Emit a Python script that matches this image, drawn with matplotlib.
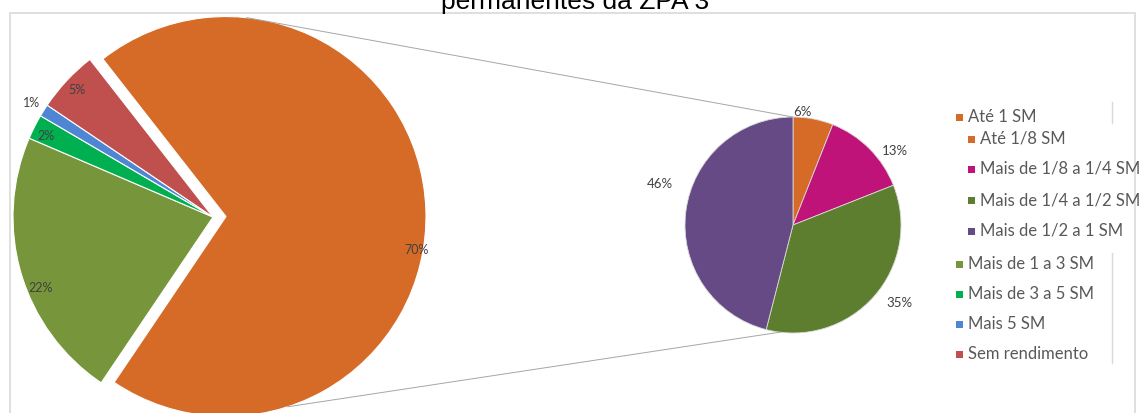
import numpy as np
import matplotlib.pyplot as plt
from matplotlib.patches import Rectangle

# Main pie: income distribution
main_labels = ['Até 1 SM', 'Mais de 1 a 3 SM', 'Mais de 3 a 5 SM', 'Mais 5 SM', 'Sem rendimento']
main_values = [70, 22, 2, 1, 5]
main_colors = ['#D66B28', '#77963B', '#00B050', '#4F86D4', '#C0504D']

# Secondary pie: breakdown of "Até 1 SM"
sub_labels = ['Até 1/8 SM', 'Mais de 1/8 a 1/4 SM', 'Mais de 1/4 a 1/2 SM', 'Mais de 1/2 a 1 SM']
sub_values = [6, 13, 35, 46]
sub_colors = ['#D66B28', '#C0137A', '#5E7E2F', '#654A85']

W, H = 1144, 413
fig = plt.figure(figsize=(W / 100, H / 100), dpi=100)
ax = fig.add_axes([0, 0, 1, 1])

lab_font = 'Lato'
gray = '#595959'

# big pie (explode is in data units here, i.e. pixels)
big_c = (213, H - 217)
big_r = 200
wedges_big, _ = ax.pie(main_values, colors=main_colors, startangle=128, counterclock=False,
                       radius=big_r, center=big_c, explode=[13, 0, 0, 0, 0], frame=True,
                       wedgeprops=dict(edgecolor='white', linewidth=0.8))

# small pie
small_c = (793, H - 225)
small_r = 108
wedges_small, _ = ax.pie(sub_values, colors=sub_colors, startangle=90, counterclock=False,
                         radius=small_r, center=small_c, frame=True,
                         wedgeprops=dict(edgecolor='#D9D9D9', linewidth=0.6))

def put_labels(wedges, values, dists, shifts, size):
    for w, v, d, s in zip(wedges, values, dists, shifts):
        a = np.deg2rad((w.theta1 + w.theta2) / 2 + s)
        cx, cy = w.center
        ax.text(cx + d * w.r * np.cos(a), cy + d * w.r * np.sin(a), f'{v}%',
                ha='center', va='center', fontsize=size, color='#404040', family=lab_font)

put_labels(wedges_big, main_values, [0.97, 0.93, 0.93, 1.07, 0.93], [-12, 6, 1, 0, 0], 9)
put_labels(wedges_small, sub_values, [1.05, 1.17, 1.22, 1.29], [6, -9, 5, -10], 9.5)

# connector lines between the pies
def arc_pt(w, deg):
    a = np.deg2rad(deg)
    return w.center[0] + w.r * np.cos(a), w.center[1] + w.r * np.sin(a)

p1 = arc_pt(wedges_big[0], 84)
q1 = arc_pt(wedges_small[0], 90)
p2 = arc_pt(wedges_big[0], -72)
q2 = arc_pt(wedges_small[2], -97)
ax.plot([p1[0], q1[0]], [p1[1], q1[1]], color='#A6A6A6', lw=0.7)
ax.plot([p2[0], q2[0]], [p2[1], q2[1]], color='#A6A6A6', lw=0.7)

# legend (manual, to keep the indented sub-entries)
leg_items = [(959, 117, main_labels[0], main_colors[0])]
sub_y = [139, 169, 200, 231]
for yy, lb, cl in zip(sub_y, sub_labels, sub_colors):
    leg_items.append((971, yy, lb, cl))
main_y = [264, 294, 324, 354]
for yy, lb, cl in zip(main_y, main_labels[1:], main_colors[1:]):
    leg_items.append((959, yy, lb, cl))
for x, y, lb, cl in leg_items:
    ax.add_patch(Rectangle((x - 3.5, H - y - 3.5), 7, 7, color=cl, lw=0))
    ax.text(x + 9, H - y, lb, ha='left', va='center', fontsize=12, color=gray, family=lab_font)

ax.plot([1112, 1112], [H - 102, H - 123], color='#D9D9D9', lw=1)
ax.plot([1112, 1112], [H - 253, H - 363], color='#D9D9D9', lw=1)

# chart frame and clipped title
ax.add_patch(Rectangle((10, -5), 1125, H - 13 + 5, fill=False, edgecolor='#D9D9D9', lw=1.2))
ax.text(575, H - 9, 'permanentes da ZPA 3', ha='center', va='baseline', fontsize=19,
        color='black', family='Liberation Sans')

ax.set_xlim(0, W)
ax.set_ylim(0, H)
ax.set_aspect('equal')
ax.axis('off')

plt.savefig('out.png', dpi=100)
